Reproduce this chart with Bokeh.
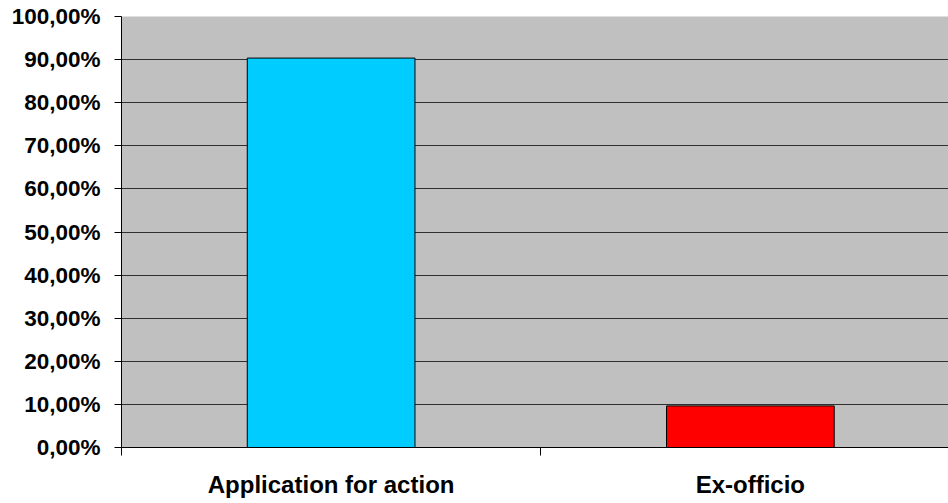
from bokeh.plotting import figure
from bokeh.models import Range1d, FixedTicker, ColumnDataSource
from bokeh.embed import file_html
from bokeh.resources import INLINE

# Data
categories = ["Application for action", "Ex-officio"]
shares = [90.35, 9.65]          # percent
bar_colors = ["#00CCFF", "#FF0000"]
y_ticks = [0, 10, 20, 30, 40, 50, 60, 70, 80, 90, 100]
y_tick_labels = [f"{t:.2f}%".replace(".", ",") for t in y_ticks]

positions = [i + 0.5 for i in range(len(categories))]
source = ColumnDataSource(dict(x=positions, top=shares, color=bar_colors))

p = figure(width=948, height=503, output_backend="svg", toolbar_location=None,
           x_range=Range1d(0, 1.9726), y_range=Range1d(0, 100),
           min_border_left=121, min_border_top=16, min_border_right=0, min_border_bottom=56)

p.background_fill_color = "#C0C0C0"
p.border_fill_color = "white"
p.outline_line_color = None

p.vbar(x="x", top="top", width=0.4, fill_color="color", line_color="black",
       line_width=1, source=source)

# Y axis
p.yaxis.ticker = FixedTicker(ticks=y_ticks)
p.yaxis.major_label_overrides = {t: l for t, l in zip(y_ticks, y_tick_labels)}
p.yaxis.major_tick_out = 7
p.yaxis.major_tick_in = 0
p.yaxis.minor_tick_line_color = None
p.yaxis.axis_line_color = "black"
p.yaxis.major_tick_line_color = "black"
p.yaxis.major_label_standoff = 14
p.yaxis.major_label_text_font = "Liberation Sans"
p.yaxis.major_label_text_font_style = "bold"
p.yaxis.major_label_text_font_size = "22.5px"
p.yaxis.major_label_text_color = "black"

# X axis: labels at category centres, tick marks at category boundaries
bounds = list(range(len(categories) + 1))
p.xaxis.ticker = FixedTicker(ticks=positions, minor_ticks=bounds)
p.xaxis.major_label_overrides = {pos: c for pos, c in zip(positions, categories)}
p.xaxis.major_tick_out = 0
p.xaxis.major_tick_in = 0
p.xaxis.minor_tick_out = 8
p.xaxis.minor_tick_in = 0
p.xaxis.minor_tick_line_color = "black"
p.xaxis.axis_line_color = "black"
p.xaxis.major_label_standoff = 15
p.xaxis.major_label_text_font = "Liberation Sans"
p.xaxis.major_label_text_font_style = "bold"
p.xaxis.major_label_text_font_size = "24px"
p.xaxis.major_label_text_color = "black"

p.xgrid.grid_line_color = None
p.ygrid.ticker = FixedTicker(ticks=y_ticks)
p.ygrid.grid_line_color = "#303030"
p.ygrid.grid_line_width = 1

open("out.html", "w").write(file_html(p, INLINE))
